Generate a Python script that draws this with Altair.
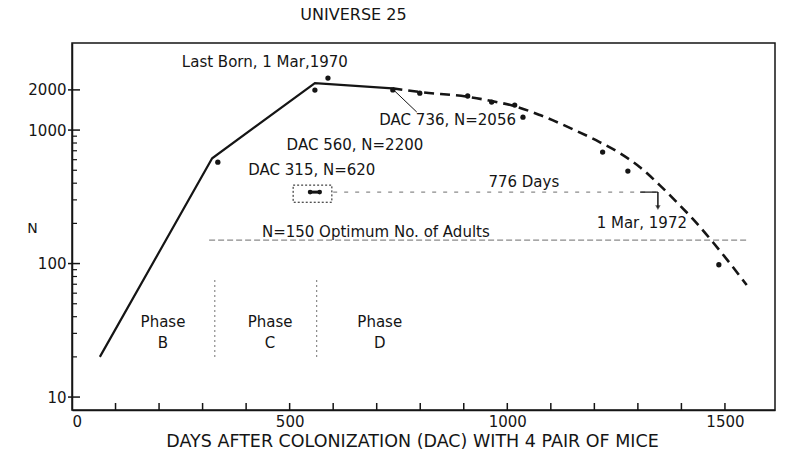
import altair as alt
import pandas as pd

FONT = "DejaVu Sans"
INK = "#151515"
GREY = "#8a8a8a"

# ---- data ----
solid_dac = [64, 322, 558, 736]
solid_n = [20, 615, 2250, 2056]

dash_dac = [736, 799, 907, 964, 1017, 1075, 1150, 1212, 1258, 1304, 1350, 1396, 1435, 1472, 1511, 1550]
dash_n = [2056, 1927, 1780, 1650, 1510, 1295, 1017, 813, 673, 529, 387, 274, 201, 145, 101, 69]

pt_dac = [335, 558, 588, 737, 799, 909, 964, 1017, 1036, 1219, 1277, 1486]
pt_n = [575, 1995, 2450, 2000, 1890, 1800, 1620, 1540, 1250, 684, 493, 98]

box_dac = [508, 597]
box_n = [288, 387]
pair_dac = [547, 569]
pair_n = [343, 343]

days_dac = [600, 1346]
days_n = [343, 343]
days_tick_dac = [1305, 1346]
arrow_dac = [1346, 1346]
arrow_n = [343, 262]

opt_dac = [315, 1550]
opt_n = [150, 150]

phase_line_dac = [328, 562]
phase_line_n = [20, 76]

leader_dac = [740, 792]
leader_n = [1980, 1365]

ann_text = ["Last Born, 1 Mar,1970", "DAC 736, N=2056", "DAC 560, N=2200", "DAC 315, N=620",
            "N=150  Optimum No. of Adults", "776 Days", "1 Mar, 1972"]
ann_dac = [443, 863, 650, 551, 698, 1038, 1309]
ann_n = [3229, 1189, 773, 502, 172, 408, 201]

phase_names = ["Phase", "B", "Phase", "C", "Phase", "D"]
phase_dac = [209, 209, 455, 455, 707, 707]
phase_n = [36.8, 25.4, 36.8, 25.4, 36.8, 25.4]

x_ticks = [100, 200, 300, 400, 500, 600, 700, 800, 900, 1000, 1100, 1200, 1300, 1400, 1500]
y_major = [10, 100, 1000, 2000]
y_minor = [20, 30, 40, 50, 60, 70, 80, 90, 200, 300, 400, 500, 600, 700, 800, 900]

W, H = 703, 367

xs = alt.Scale(domain=[0, 1615], nice=False, zero=False)
ys = alt.Scale(type="log", domain=[8, 4490], nice=False)
xa = alt.Axis(values=[0, 500, 1000, 1500], ticks=False, grid=False, format="d",
              labelFontSize=15, labelFont=FONT, labelColor=INK, labelPadding=4,
              domainColor=INK, domainWidth=1.5,
              title="DAYS AFTER COLONIZATION (DAC) WITH 4 PAIR OF MICE",
              titleFont=FONT, titleFontSize=17.5, titleFontWeight="normal", titleColor=INK,
              titlePadding=3, titleX=340)
ya = alt.Axis(values=y_major, ticks=False, grid=False, format="d",
              labelFontSize=15, labelFont=FONT, labelColor=INK, labelPadding=6,
              domainColor=INK, domainWidth=1.5,
              title="N", titleAngle=0, titleFont=FONT, titleFontSize=14,
              titleFontWeight="normal", titleColor=INK, titleX=-40, titleY=185,
              titleAlign="center", titleBaseline="middle")


def X(f):
    return alt.X(f, type="quantitative", scale=xs, axis=xa)


def Y(f):
    return alt.Y(f, type="quantitative", scale=ys, axis=ya)


def seg(dac, n):
    return pd.DataFrame({"dac": dac, "n": n})


solid = alt.Chart(seg(solid_dac, solid_n)).mark_line(color=INK, strokeWidth=2.2).encode(
    x=X("dac"), y=Y("n"))
dashed = alt.Chart(seg(dash_dac, dash_n)).mark_line(
    color=INK, strokeWidth=2.6, strokeDash=[10, 6], interpolate="monotone").encode(
    x=X("dac"), y=Y("n"))
points = alt.Chart(seg(pt_dac, pt_n)).mark_circle(color=INK, size=28, opacity=1).encode(
    x=X("dac"), y=Y("n"))

box = alt.Chart(pd.DataFrame({"x1": [box_dac[0]], "x2": [box_dac[1]],
                              "y1": [box_n[0]], "y2": [box_n[1]]})).mark_rect(
    fillOpacity=0, stroke=INK, strokeWidth=1, strokeDash=[2, 2]).encode(
    x=X("x1"), x2="x2", y=Y("y1"), y2="y2")
pair = alt.Chart(seg(pair_dac, pair_n)).mark_line(
    color=INK, strokeWidth=3, point=alt.OverlayMarkDef(color=INK, size=22)).encode(
    x=X("dac"), y=Y("n"))

days = alt.Chart(seg(days_dac, days_n)).mark_line(
    color=GREY, strokeWidth=1.2, strokeDash=[4, 7]).encode(x=X("dac"), y=Y("n"))
days_tick = alt.Chart(seg(days_tick_dac, days_n)).mark_line(
    color=INK, strokeWidth=1.2).encode(x=X("dac"), y=Y("n"))
arrow = alt.Chart(seg(arrow_dac, arrow_n)).mark_line(color=INK, strokeWidth=1.5).encode(
    x=X("dac"), y=Y("n"))
arrow_head = alt.Chart(seg([arrow_dac[1]], [arrow_n[1]])).mark_point(
    shape="triangle-down", filled=True, color=INK, size=30).encode(x=X("dac"), y=Y("n"))
opt = alt.Chart(seg(opt_dac, opt_n)).mark_line(
    color=GREY, strokeWidth=1.2, strokeDash=[6, 3]).encode(x=X("dac"), y=Y("n"))

phase_lines = alt.Chart(pd.DataFrame({"dac": phase_line_dac,
                                      "n1": [phase_line_n[0]] * 2,
                                      "n2": [phase_line_n[1]] * 2})).mark_rule(
    color=GREY, strokeWidth=1.2, strokeDash=[2, 3]).encode(
    x=X("dac"), y=Y("n1"), y2="n2")

leader = alt.Chart(seg(leader_dac, leader_n)).mark_line(color=INK, strokeWidth=1).encode(
    x=X("dac"), y=Y("n"))

ann = alt.Chart(pd.DataFrame({"t": ann_text, "dac": ann_dac, "n": ann_n})).mark_text(
    font=FONT, fontSize=15, color=INK, align="center", baseline="middle").encode(
    x=X("dac"), y=Y("n"), text="t:N")
phases = alt.Chart(pd.DataFrame({"t": phase_names, "dac": phase_dac, "n": phase_n})).mark_text(
    font=FONT, fontSize=15, color=INK, align="center", baseline="middle").encode(
    x=X("dac"), y=Y("n"), text="t:N")

xtick = alt.Chart(pd.DataFrame({"t": x_ticks})).mark_rule(color=INK, strokeWidth=1.5).encode(
    x=X("t"), y=alt.value(H), y2=alt.value(H - 7))
ymaj = alt.Chart(pd.DataFrame({"t": y_major})).mark_rule(color=INK, strokeWidth=1.5).encode(
    y=Y("t"), x=alt.value(-4), x2=alt.value(8))
ymin = alt.Chart(pd.DataFrame({"t": y_minor})).mark_rule(color=INK, strokeWidth=1.2).encode(
    y=Y("t"), x=alt.value(0), x2=alt.value(5))

chart = alt.layer(
    opt, days, days_tick, phase_lines, box, pair, leader, solid, dashed, points, arrow,
    arrow_head, ann, phases, xtick, ymaj, ymin
).properties(
    width=W, height=H,
    title=alt.TitleParams("UNIVERSE 25", font=FONT, fontSize=16, fontWeight="normal",
                          color=INK, anchor="middle", frame="group", dx=-70, offset=20),
    autosize=alt.AutoSizeParams(type="none"),
    padding={"left": 72, "top": 43, "right": 25, "bottom": 51},
    background="white",
).configure_view(stroke=INK, strokeWidth=1.5)

chart.save("out.html", embed_options={"renderer": "svg", "actions": False})
